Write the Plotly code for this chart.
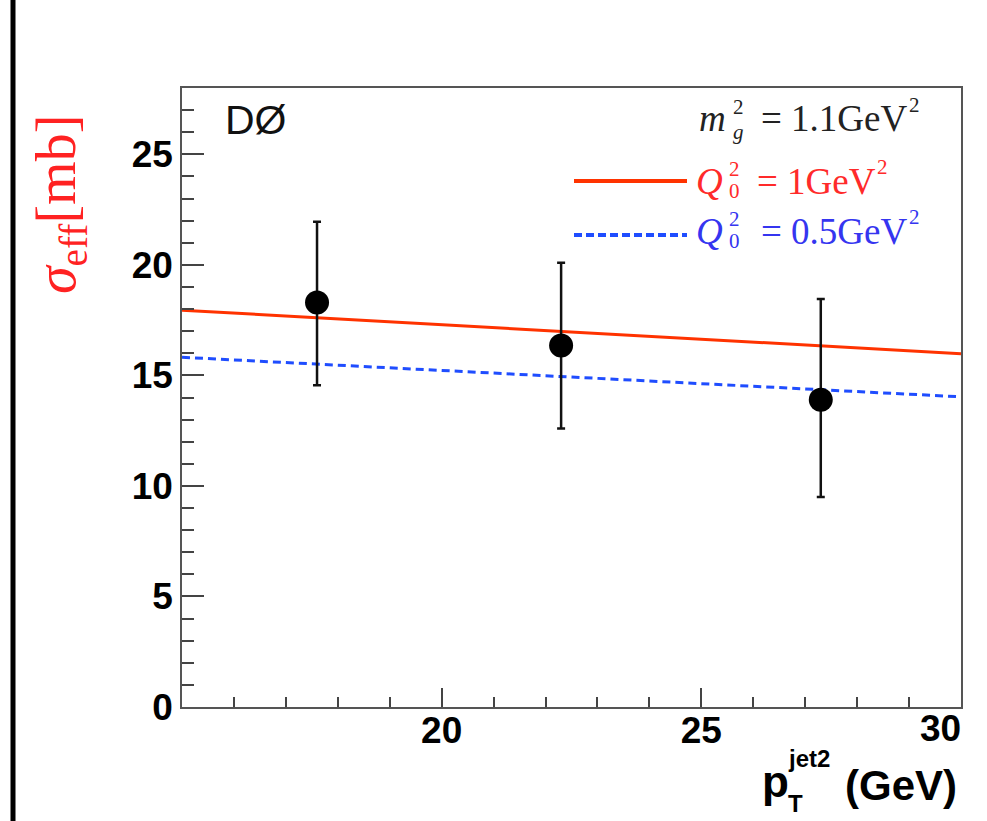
import plotly.graph_objects as go

# ---- data ----
pt_jet2 = [17.6, 22.3, 27.3]
sigma_eff = [18.3, 16.35, 13.9]
err_plus = [3.65, 3.75, 4.55]
err_minus = [3.75, 3.75, 4.4]

model_x = [15, 30]
q0_1_y = [17.95, 15.98]
q0_05_y = [15.82, 14.03]

x_tickvals = [15, 20, 25, 30]
x_ticktext = ["", "20", "25", ""]
y_tickvals = [0, 5, 10, 15, 20, 25]
y_ticktext = ["0", "5", "10", "15", "20", "25"]

W, H = 987, 821
L, R, T, B = 182, 961, 88, 707


def px(x):
    return (x - L) / (R - L)


def py(y):
    return (B - y) / (B - T)


fig = go.Figure()

fig.add_trace(go.Scatter(x=model_x, y=q0_1_y, mode="lines",
                         line=dict(color="#ff3300", width=3), showlegend=False))
fig.add_trace(go.Scatter(x=model_x, y=q0_05_y, mode="lines",
                         line=dict(color="#1f4dff", width=3, dash="8px,5px"), showlegend=False))
fig.add_trace(go.Scatter(
    x=pt_jet2, y=sigma_eff, mode="markers",
    marker=dict(color="black", size=24),
    error_y=dict(type="data", array=err_plus, arrayminus=err_minus,
                 color="#111", thickness=2.5, width=4),
    showlegend=False))

tickfont = dict(family="Liberation Sans", size=37, color="black", weight="bold")

fig.update_layout(
    width=W, height=H,
    margin=dict(l=L, r=W - R, t=T, b=H - B),
    paper_bgcolor="white", plot_bgcolor="white",
    xaxis=dict(range=[15, 30], tickmode="array", tickvals=x_tickvals, ticktext=x_ticktext,
               ticks="inside", ticklen=19, tickwidth=1.5, tickcolor="#444",
               ticklabelstandoff=-10,
               showline=True, linecolor="#555", linewidth=1.5, mirror=True,
               showgrid=False, zeroline=False, tickfont=tickfont,
               minor=dict(tickmode="linear", tick0=15, dtick=1, ticks="inside",
                          ticklen=10, tickwidth=1.5, tickcolor="#444", showgrid=False)),
    yaxis=dict(range=[0, 28], tickmode="array", tickvals=y_tickvals, ticktext=y_ticktext,
               ticks="inside", ticklen=22, tickwidth=1.5, tickcolor="#444",
               showline=True, linecolor="#555", linewidth=1.5, mirror=True,
               showgrid=False, zeroline=False, tickfont=tickfont,
               minor=dict(tickmode="linear", tick0=0, dtick=1, ticks="inside",
                          ticklen=12, tickwidth=1.5, tickcolor="#444", showgrid=False)),
)

# left black vertical rule
fig.add_shape(type="line", xref="paper", yref="paper",
              x0=px(13), x1=px(13), y0=py(0), y1=py(H),
              line=dict(color="black", width=5))

# legend samples
fig.add_shape(type="line", xref="paper", yref="paper",
              x0=px(574), x1=px(687), y0=py(181), y1=py(181),
              line=dict(color="#ff3300", width=4))
fig.add_shape(type="line", xref="paper", yref="paper",
              x0=px(574), x1=px(687), y0=py(235), y1=py(235),
              line=dict(color="#1f4dff", width=4, dash="8px,4px"))

serif = "Liberation Serif"
BLK, RED, BLU = "#222222", "#ff2a2a", "#3535f0"
MS, SS = 37, 21  # main / script font sizes


def L_(text, x, y, size, color, anchor="left", fam=serif):
    return dict(text=text, x=px(x), y=py(y), xanchor=anchor, yanchor="middle",
                font=dict(family=fam, size=size, color=color))


ann = [
    dict(text="DØ", x=px(223), y=py(120), xanchor="left", yanchor="middle",
         font=dict(family="Liberation Sans", size=41, color="#111")),
    # m_g^2 = 1.1GeV^2
    L_("<i>m</i>", 697, 119, MS, BLK),
    L_("2", 731, 107, SS, BLK),
    L_("<i>g</i>", 731, 132, SS, BLK),
    L_("= 1.1GeV", 910, 119, MS, BLK, "right"),
    L_("2", 907, 105, SS, BLK),
    # Q0^2 = 1GeV^2
    L_("<i>Q</i>", 694, 181, MS, RED),
    L_("2", 727, 169, SS, RED),
    L_("0", 727, 191, SS, RED),
    L_("= 1GeV", 878, 181, MS, RED, "right"),
    L_("2", 875, 167, SS, RED),
    # Q0^2 = 0.5GeV^2
    L_("<i>Q</i>", 694, 231, MS, BLU),
    L_("2", 727, 219, SS, BLU),
    L_("0", 727, 241, SS, BLU),
    L_("= 0.5GeV", 910, 231, MS, BLU, "right"),
    L_("2", 907, 217, SS, BLU),
    # y-axis title
    dict(text="<i>σ</i><sub>eff</sub>[mb]", x=px(60), y=py(205),
         xanchor="center", yanchor="middle", textangle=-90,
         font=dict(family=serif, size=56, color="#ff2222")),
    # last x tick label (shifted left as in the original)
    dict(text="30", x=px(963), y=py(706), xanchor="right", yanchor="top",
         font=tickfont),
    # x-axis title
    dict(text="<b>p</b>", x=px(760), y=py(781), xanchor="left", yanchor="middle",
         font=dict(family="Liberation Sans", size=44, color="black")),
    dict(text="<b>jet2</b>", x=px(786), y=py(758), xanchor="left", yanchor="middle",
         font=dict(family="Liberation Sans", size=24, color="black")),
    dict(text="<b>T</b>", x=px(786), y=py(803), xanchor="left", yanchor="middle",
         font=dict(family="Liberation Sans", size=24, color="black")),
    dict(text="<b>(GeV)</b>", x=px(959), y=py(785), xanchor="right", yanchor="middle",
         font=dict(family="Liberation Sans", size=42, color="black")),
]
for a in ann:
    a.update(xref="paper", yref="paper", showarrow=False)
    fig.add_annotation(**a)

fig.write_html("out.html", config={"displayModeBar": False},
               post_script="document.body.style.margin='0';document.body.style.padding='0';")
